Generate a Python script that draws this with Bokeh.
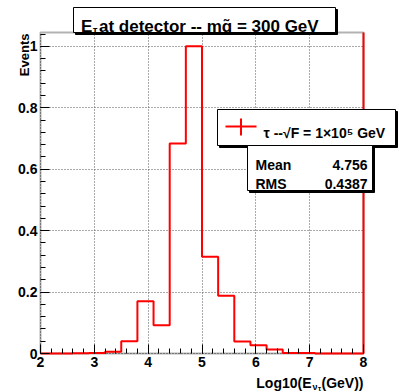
from bokeh.plotting import figure
from bokeh.models import FixedTicker, Range1d, Label, BoxAnnotation, PrintfTickFormatter, Grid
from bokeh.embed import file_html
from bokeh.resources import INLINE
import math

# ---- data ----
bin_edges = [2.0, 2.3, 2.6, 2.9, 3.2, 3.5, 3.8, 4.1, 4.4, 4.7, 5.0,
             5.3, 5.6, 5.9, 6.2, 6.5, 6.8, 7.1, 7.4, 7.7, 8.0]
events = [0.0, 0.0, 0.001, 0.002, 0.006, 0.040, 0.170, 0.092, 0.684, 1.000,
          0.315, 0.188, 0.039, 0.027, 0.013, 0.002, 0.002, 0.0, 0.0, 0.0]
x_ticks = [2, 3, 4, 5, 6, 7, 8]
y_ticks = [0, 0.2, 0.4, 0.6, 0.8, 1]
x_minor = [round(2 + 0.2 * i, 3) for i in range(31)]
y_minor = [round(0.04 * i, 3) for i in range(27)]
y_top = 1.045
title_main = " at detector -- mq\u0303 = 300 GeV"
legend_text = "\u03c4 --\u221aF = 1\u00d710\u2075 GeV"
stat_names = ["Mean", "RMS"]
stat_values = ["4.756", "0.4387"]

FONT = "Liberation Sans"

# ---- layout: the frame fills the canvas; the ROOT-style box sits at these pixels ----
W, H = 399, 392
BX0, BX1, BY0, BY1 = 40, 363, 32, 353   # pixel edges of the plotting box
x0, x1 = x_ticks[0], x_ticks[-1]
kx = (BX1 - BX0) / (x1 - x0)
ky = (BY1 - BY0) / (y_top - 0)
xr = Range1d(x0 - BX0 / kx, x1 + (W - BX1) / kx)
yr = Range1d(0 - (H - BY1) / ky, y_top + BY0 / ky)

p = figure(width=W, height=H, x_range=xr, y_range=yr,
           output_backend="svg", toolbar_location=None,
           min_border_left=0, min_border_right=0, min_border_top=0, min_border_bottom=0)
p.title.visible = False
p.background_fill_color = "white"
p.border_fill_color = "white"
p.outline_line_color = None

# frame
p.add_layout(BoxAnnotation(left=x0, right=x1, bottom=0, top=y_top, fill_alpha=0,
                           line_color="black", line_width=2, level="underlay"))

# axes at fixed locations on the box edges
p.xaxis.fixed_location = 0
p.yaxis.fixed_location = x0
p.xaxis.bounds = (x0, x1)
p.yaxis.bounds = (0, y_top)
for ax, t, mn in ((p.xaxis[0], x_ticks, x_minor), (p.yaxis[0], y_ticks, y_minor)):
    ax.ticker = FixedTicker(ticks=t, minor_ticks=mn)
    ax.formatter = PrintfTickFormatter(format="%g")
    ax.axis_line_color = None
    ax.major_tick_in = 9
    ax.major_tick_out = 0
    ax.minor_tick_in = 5
    ax.minor_tick_out = 0
    ax.major_tick_line_color = "black"
    ax.minor_tick_line_color = "black"
    ax.major_label_text_font = FONT
    ax.major_label_text_font_style = "bold"
    ax.major_label_text_font_size = "14px"
    ax.major_label_text_color = "black"
    ax.major_label_standoff = 3

# grid limited to the box
has_cross = "cross_bounds" in Grid.properties()
p.xgrid.ticker = FixedTicker(ticks=x_ticks)
p.ygrid.ticker = FixedTicker(ticks=y_ticks)
for g, cb in ((p.xgrid[0], (0, y_top)), (p.ygrid[0], (x0, x1))):
    g.grid_line_color = "#555555"
    g.grid_line_dash = "1 2"
    g.grid_line_width = 1
    if has_cross:
        g.cross_bounds = cb
    else:
        g.visible = False
if not has_cross:
    p.segment(x0=x_ticks, y0=[0] * len(x_ticks), x1=x_ticks, y1=[y_top] * len(x_ticks),
              line_color="#555555", line_dash="1 2", line_width=1)
    p.segment(x0=[x0] * len(y_ticks), y0=y_ticks, x1=[x1] * len(y_ticks), y1=y_ticks,
              line_color="#555555", line_dash="1 2", line_width=1)

# histogram
p.step(bin_edges, events + [events[-1]], mode="after", line_color="#ff0000", line_width=2)
p.segment(x0=[bin_edges[-1]], y0=[0], x1=[bin_edges[-1]], y1=[y_top], line_color="#ff0000", line_width=2)

# ---- helpers in canvas pixels (top-left origin) ----
def box(l, t, r, b, shadow=2, fill="white", line="black"):
    items = [(shadow, "black"), (0, fill)] if shadow else [(0, fill)]
    for dx, fc in items:
        p.add_layout(BoxAnnotation(left=l + dx, right=r + dx, top=t + dx, bottom=b + dx,
                                   left_units="canvas", right_units="canvas", top_units="canvas", bottom_units="canvas",
                                   fill_color=fc, fill_alpha=1, line_color=line, line_alpha=1, line_width=1,
                                   level="overlay"))

def lab(text, ix, iy, size, align="left", bold=True, angle=0, color="black"):
    p.add_layout(Label(x=ix, y=iy, x_units="canvas", y_units="canvas", text=text,
                       text_font=FONT, text_font_style="bold" if bold else "normal",
                       text_font_size=f"{size}px", text_align=align, text_baseline="alphabetic",
                       angle=angle, text_color=color, level="overlay"))

# title
box(73, 7, 335, 32)
lab("E", 80.5, 25.5, 17)
lab("\u03c4", 92.5, 29.5, 10)
lab(title_main, 98.5, 25.5, 17)

# y label
lab("Events", 24, 33, 13, align="right", angle=math.pi / 2)

# x label
lab("Log10(E", 311, 382, 14, align="right")
lab("\u03bd", 312, 386, 9)
lab("\u03c4", 317.5, 388, 7)
lab("(GeV))", 363, 382, 14, align="right")

# legend
box(217, 109, 395, 145)
box(225, 125, 256, 127, shadow=0, fill="#ff0000", line=None)
box(239.5, 118, 241.5, 135, shadow=0, fill="#ff0000", line=None)
lab(legend_text, 263, 132.5, 14)

# stats box
box(247, 145, 372, 190)
for i, (n, v) in enumerate(zip(stat_names, stat_values)):
    lab(n, 255, 164 + 19 * i, 14)
    lab(v, 367, 164 + 19 * i, 14, align="right")

open("out.html", "w").write(file_html(p, INLINE))
